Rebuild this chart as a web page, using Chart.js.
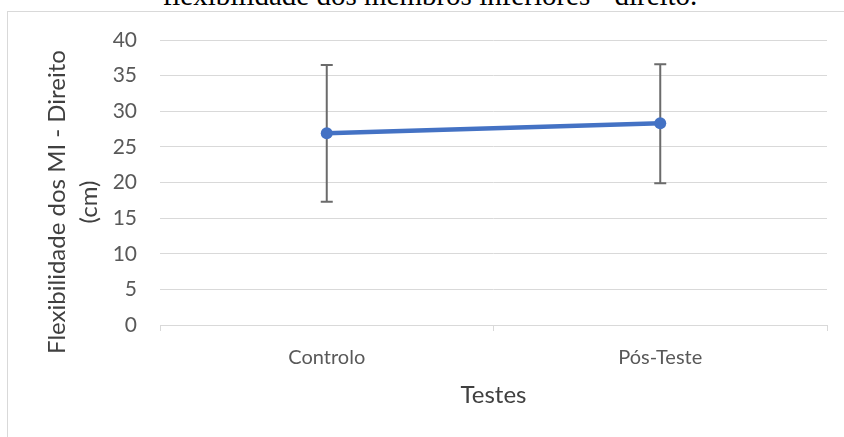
<!DOCTYPE html>
<html>
<head>
<meta charset="utf-8">
<script src="https://cdn.jsdelivr.net/npm/chart.js@4.4.1/dist/chart.umd.min.js"></script>
<style>
  html, body { margin: 0; padding: 0; background: #fff; overflow: hidden; }
  #wrap { position: relative; width: 844px; height: 437px; overflow: hidden; }
  #frame { position: absolute; left: 7px; top: 11px; width: 900px; height: 500px; border: 1px solid #d9d9d9; }
  #caption { position: absolute; left: 0; top: -19px; width: 860px; text-align: center; white-space: nowrap;
             font: 29px/29px "Liberation Serif", "Times New Roman", serif; color: #000; }
  canvas { position: absolute; left: 0; top: 0; }
</style>
</head>
<body>
<div id="wrap">
  <div id="caption">flexibilidade dos membros inferiores - direito.</div>
  <div id="frame"></div>
  <canvas id="chart" width="844" height="437"></canvas>
</div>
<script>
const categories = ['Controlo', 'Pós-Teste'];
const means = [26.9, 28.3];
const upperValues = [36.5, 36.6];
const lowerValues = [17.3, 19.9];
const yMin = 0;
const yMax = 40;
const yStep = 5;
const yTitleLines = ['Flexibilidade dos MI - Direito', '(cm)'];

const gridColor = '#d9d9d9';
const textColor = '#595959';
const fontFamily = 'Lato, "Noto Sans", sans-serif';

// error bars go under the line so the markers sit on top
const errorBars = {
    id: 'errorBars',
    beforeDatasetsDraw(chart) {
        const { ctx, scales: { x, y } } = chart;
        ctx.save();
        ctx.strokeStyle = '#6b6b6b';
        ctx.lineWidth = 2;
        categories.forEach((c, i) => {
            const px = x.getPixelForValue(i);
            const top = y.getPixelForValue(upperValues[i]);
            const bottom = y.getPixelForValue(lowerValues[i]);
            ctx.beginPath();
            ctx.moveTo(px, top);
            ctx.lineTo(px, bottom);
            ctx.moveTo(px - 6, top);
            ctx.lineTo(px + 6, top);
            ctx.moveTo(px - 6, bottom);
            ctx.lineTo(px + 6, bottom);
            ctx.stroke();
        });
        ctx.restore();
    }
};

// the excel y title sits a bit lower than the axis middle, so draw it by hand
const yTitle = {
    id: 'yTitle',
    afterDraw(chart) {
        const { ctx } = chart;
        ctx.save();
        ctx.translate(0, 202);
        ctx.rotate(-Math.PI / 2);
        ctx.fillStyle = '#404040';
        ctx.font = '24px ' + fontFamily;
        ctx.textAlign = 'center';
        ctx.textBaseline = 'alphabetic';
        ctx.fillText(yTitleLines[0], 0, 65);
        ctx.fillText(yTitleLines[1], 0, 97);
        ctx.restore();
    }
};

new Chart(document.getElementById('chart'), {
    type: 'line',
    data: {
        labels: categories,
        datasets: [{
            data: means,
            borderColor: '#4472c4',
            backgroundColor: '#4472c4',
            borderWidth: 4.5,
            pointRadius: 6,
            pointBorderWidth: 0,
            pointBackgroundColor: '#4472c4',
            tension: 0
        }]
    },
    options: {
        responsive: false,
        animation: false,
        events: [],
        layout: { padding: { left: 0, top: 40, right: 17, bottom: 0 } },
        plugins: { legend: { display: false }, tooltip: { enabled: false } },
        scales: {
            x: {
                offset: true,
                grid: { offset: true, drawOnChartArea: false, drawTicks: true, tickLength: 6, color: gridColor },
                border: { color: gridColor, width: 1 },
                ticks: { color: textColor, font: { family: fontFamily, size: 20 }, padding: 15 },
                title: {
                    display: true,
                    text: 'Testes',
                    color: '#404040',
                    font: { family: fontFamily, size: 24 },
                    padding: { top: 0, bottom: 27 }
                },
                afterFit(scale) { scale.height = 112; }
            },
            y: {
                min: yMin,
                max: yMax,
                ticks: { stepSize: yStep, color: textColor, font: { family: fontFamily, size: 21 }, padding: 23 },
                grid: { color: gridColor, lineWidth: 1, drawTicks: false },
                border: { display: false },
                afterFit(scale) { scale.width = 160; }
            }
        }
    },
    plugins: [errorBars, yTitle]
});
</script>
</body>
</html>
